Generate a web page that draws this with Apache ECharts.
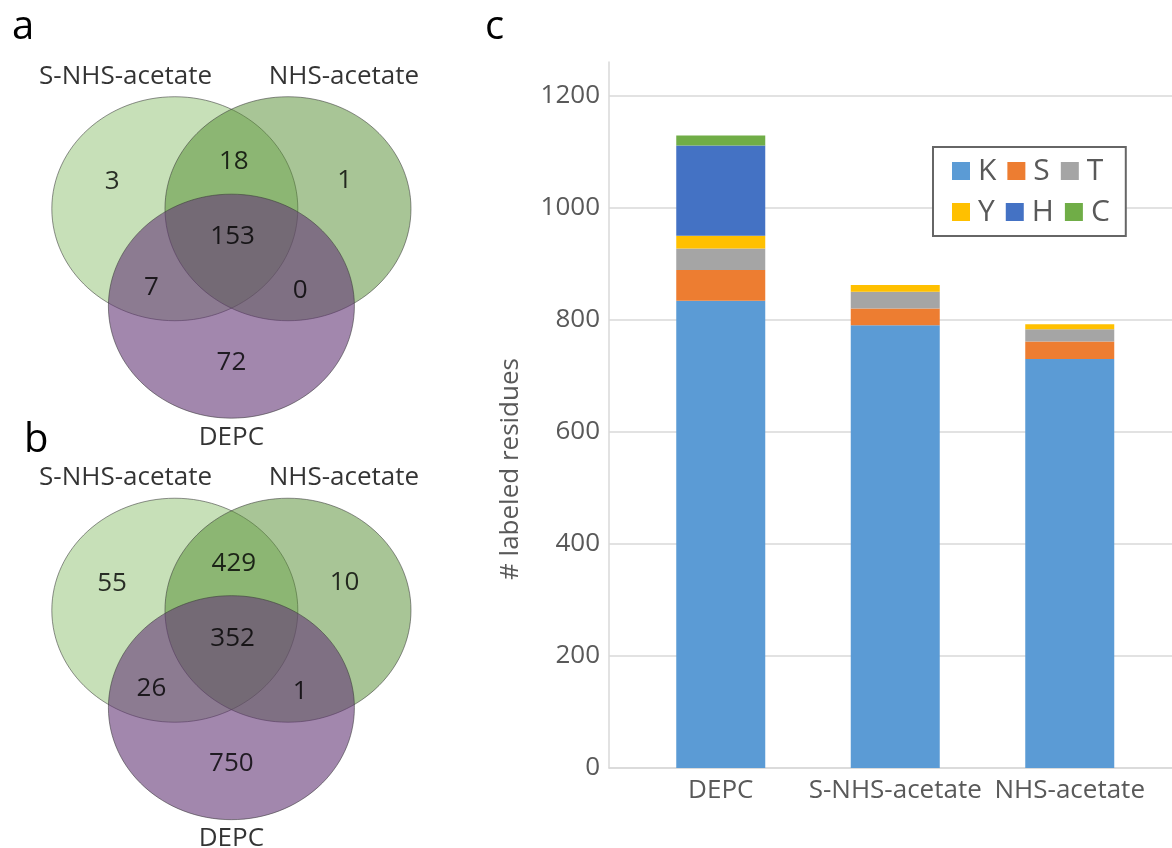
<!DOCTYPE html>
<html>
<head>
<meta charset="utf-8">
<title>Labeled residues by reagent</title>
<script src="https://cdn.jsdelivr.net/npm/echarts@6/dist/echarts.min.js"></script>
<style>
  html, body { margin: 0; padding: 0; background: #ffffff; }
  #chart { width: 1172px; height: 848px; }
</style>
</head>
<body>
<div id="chart"></div>
<script>
// ---- data ----------------------------------------------------------------
// Venn counts, region order: S-NHS only, S-NHS∩NHS, NHS only, all three,
// S-NHS∩DEPC, NHS∩DEPC, DEPC only
const vennSetNames = ['S-NHS-acetate', 'NHS-acetate', 'DEPC'];
const vennCountsA = [3, 18, 1, 153, 7, 0, 72];
const vennCountsB = [55, 429, 10, 352, 26, 1, 750];

// stacked residue counts per reagent
const reagents = ['DEPC', 'S-NHS-acetate', 'NHS-acetate'];
const residueNames = ['K', 'S', 'T', 'Y', 'H', 'C'];
const countK = [834, 790, 730];
const countS = [55, 30, 31];
const countT = [38, 30, 22];
const countY = [23, 12, 9];
const countH = [161, 0, 0];
const countC = [18, 0, 0];
const yTicks = [0, 200, 400, 600, 800, 1000, 1200];

// ---- layout (unit = one circle radius) -----------------------------------
const SET_CENTERS = [[-0.46, 0.29], [0.46, 0.29], [0, -0.58]];
const REGION_SPOTS = [[-0.97, 0.53], [0.02, 0.71], [0.92, 0.54], [0.01, 0.04],
                      [-0.65, -0.41], [0.56, -0.44], [0, -1.08]];
const SET_LABEL_SPOTS = [[-0.86, 1.47], [0.915, 1.47], [0, -1.75]];
const VENN_FILLS = ['rgba(144,194,113,0.5)', 'rgba(81,139,45,0.5)', 'rgba(100,55,118,0.6)'];
const RESIDUE_COLORS = ['#5B9BD5', '#ED7D31', '#A5A5A5', '#FFC000', '#4472C4', '#70AD47'];
const FONT = "'Open Sans', 'Noto Sans', sans-serif";
const AXIS_GREY = '#d9d9d9';
const TEXT_GREY = '#595959';

const residueSeries = [countK, countS, countT, countY, countH, countC];

function vennGridAxes(idx) {
  return {
    x: { type: 'value', gridIndex: idx, min: -1.8, max: 1.8, show: false },
    y: { type: 'value', gridIndex: idx, min: -1.8, max: 1.8, show: false }
  };
}

function vennSeries(idx, counts) {
  const textLabel = {
    show: true, position: 'inside', color: '#000000',
    textBorderWidth: 0, fontFamily: FONT, fontSize: 26
  };
  return [
    {
      type: 'custom',
      xAxisIndex: idx, yAxisIndex: idx,
      silent: true,
      data: SET_CENTERS.map((c, i) => ({ name: vennSetNames[i], value: c })),
      renderItem: function (params, api) {
        const c = api.coord([api.value(0), api.value(1)]);
        const s = api.size([1, 1]);
        return {
          type: 'ellipse',
          shape: { cx: c[0], cy: c[1], rx: s[0], ry: s[1] },
          style: { fill: VENN_FILLS[params.dataIndex], stroke: 'rgba(55,55,55,0.55)', lineWidth: 1 }
        };
      }
    },
    {
      type: 'scatter',
      xAxisIndex: idx, yAxisIndex: idx,
      silent: true,
      symbolSize: 0,
      data: REGION_SPOTS.map((p, i) => [p[0], p[1], counts[i]]),
      label: Object.assign({}, textLabel, { formatter: p => String(p.value[2]) })
    },
    {
      type: 'scatter',
      xAxisIndex: idx, yAxisIndex: idx,
      silent: true,
      symbolSize: 0,
      data: SET_LABEL_SPOTS.map((p, i) => ({ name: vennSetNames[i], value: p })),
      label: Object.assign({}, textLabel, { formatter: p => p.name })
    }
  ];
}

const va = vennGridAxes(0);
const vb = vennGridAxes(1);

const option = {
  animation: false,
  backgroundColor: '#ffffff',
  textStyle: { fontFamily: FONT },
  grid: [
    { left: 10, top: 39.6, width: 442.8, height: 403.2 },
    { left: 10, top: 441.1, width: 442.8, height: 403.2 },
    { left: 609, right: 0, top: 62, bottom: 80 },
    { left: 633.5, width: 523.5, top: 62, bottom: 80 }
  ],
  xAxis: [
    va.x, vb.x,
    {
      type: 'value', gridIndex: 2, min: 0, max: 1,
      axisLine: { show: true, lineStyle: { color: AXIS_GREY, width: 1.5 } },
      axisTick: { show: false }, axisLabel: { show: false }, splitLine: { show: false }
    },
    {
      type: 'category', gridIndex: 3, data: reagents,
      axisLine: { show: false }, axisTick: { show: false }, splitLine: { show: false },
      axisLabel: {
        color: TEXT_GREY, fontSize: 26, fontFamily: FONT, margin: 10,
        interval: 0, hideOverlap: false
      }
    }
  ],
  yAxis: [
    va.y, vb.y,
    {
      type: 'value', gridIndex: 2, min: 0, max: 1260,
      axisLine: { show: true, lineStyle: { color: AXIS_GREY, width: 1.5 } },
      axisTick: { show: false, customValues: yTicks },
      axisLabel: {
        customValues: yTicks, color: TEXT_GREY, fontSize: 26, fontFamily: FONT, margin: 9,
        formatter: v => String(v)
      },
      splitLine: { show: true, lineStyle: { color: AXIS_GREY, width: 1.5 } }
    },
    { type: 'value', gridIndex: 3, min: 0, max: 1260, show: false }
  ],
  legend: {
    data: residueNames,
    left: 933, top: 147,
    width: 162,
    orient: 'horizontal',
    selectedMode: false,
    icon: 'rect',
    itemWidth: 18, itemHeight: 18, itemGap: 11,
    padding: [9, 16, 9, 19],
    borderColor: '#666666', borderWidth: 2,
    backgroundColor: '#ffffff',
    textStyle: { color: TEXT_GREY, fontSize: 30, fontFamily: FONT, width: 22, padding: [0, 0, 0, 3] }
  },
  graphic: [
    { type: 'text', x: 12, y: 28, style: { text: 'a', fontSize: 40, fontFamily: FONT, fill: '#000', verticalAlign: 'middle' } },
    { type: 'text', x: 24, y: 441, style: { text: 'b', fontSize: 40, fontFamily: FONT, fill: '#000', verticalAlign: 'middle' } },
    { type: 'text', x: 485, y: 28, style: { text: 'c', fontSize: 40, fontFamily: FONT, fill: '#000', verticalAlign: 'middle' } },
    {
      type: 'text', x: 511, y: 469, rotation: Math.PI / 2,
      style: { text: '# labeled residues', fontSize: 26, fontFamily: FONT, fill: TEXT_GREY, align: 'center', verticalAlign: 'middle' }
    }
  ],
  series: [
    ...vennSeries(0, vennCountsA),
    ...vennSeries(1, vennCountsB),
    ...residueNames.map((name, i) => ({
      name: name,
      type: 'bar',
      stack: 'residues',
      xAxisIndex: 3, yAxisIndex: 3,
      barWidth: 89,
      silent: true,
      itemStyle: { color: RESIDUE_COLORS[i] },
      data: residueSeries[i]
    }))
  ]
};

const chart = echarts.init(document.getElementById('chart'), null, { renderer: 'canvas' });
chart.setOption(option);
</script>
</body>
</html>
